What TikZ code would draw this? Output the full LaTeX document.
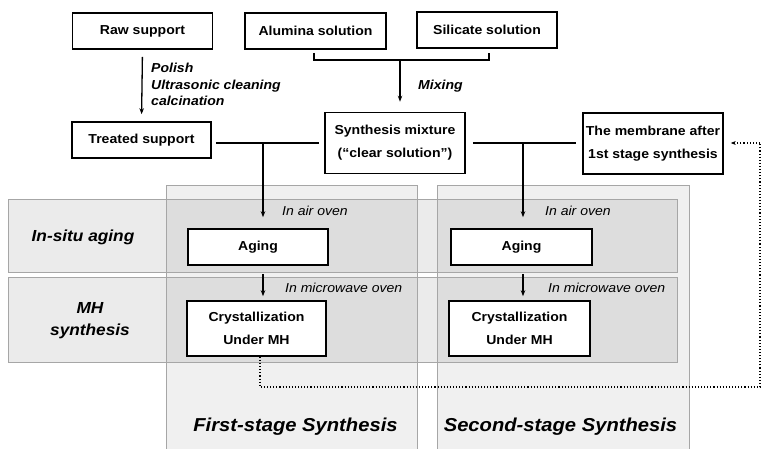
\documentclass[tikz,border=0pt]{standalone}
\usepackage{fontspec}
\setmainfont{Liberation Sans}[FakeStretch=1.08]
\usetikzlibrary{arrows.meta}
\begin{document}
\begin{tikzpicture}[x=1pt,y=-1pt,
  box/.style={draw=black,line width=1.6pt,fill=white,inner sep=0pt,align=center,font=\fontsize{13}{23}\selectfont\bfseries},
  conn/.style={line width=1.3pt},
  arr/.style={line width=1.3pt,-{Stealth[length=6pt,width=4.5pt]}},
  dots/.style={line width=1.1pt,dotted},
  lbl/.style={font=\fontsize{13}{16.5}\selectfont\bfseries\itshape,align=left,inner sep=0pt},
  oven/.style={font=\fontsize{13}{15}\selectfont\itshape,inner sep=0pt,anchor=west},
  rowlbl/.style={font=\fontsize{16}{22}\selectfont\bfseries\itshape,align=center,inner sep=0pt},
  stagelbl/.style={font=\fontsize{18.7}{22}\selectfont\bfseries\itshape,inner sep=0pt},
  panel/.style={fill=black,fill opacity=0.06,draw=none},
  band/.style={fill=black,fill opacity=0.08,draw=none},
  edge/.style={draw=black!35,line width=0.8pt}
]
\useasboundingbox (0,0) rectangle (762,449);
\fill[white] (0,0) rectangle (762,449);

% panels and bands
\fill[panel] (166,185) rectangle (417,452);
\fill[panel] (437,185) rectangle (689,452);
\fill[band] (8,199) rectangle (677,272);
\fill[band] (8,277) rectangle (677,362);
\draw[edge] (166,452) -- (166,185) -- (417,185) -- (417,452);
\draw[edge] (437,452) -- (437,185) -- (689,185) -- (689,452);
\draw[edge] (8,199) rectangle (677,272);
\draw[edge] (8,277) rectangle (677,362);

% boxes
\node[box,minimum width=140pt,minimum height=36pt] (raw) at (142.5,31) {Raw support};
\node[box,minimum width=141pt,minimum height=36pt] (alu) at (315.5,31) {Alumina solution};
\node[box,minimum width=140pt,minimum height=36pt] (sil) at (487,30) {Silicate solution};
\node[box,minimum width=139pt,minimum height=36pt] (treated) at (141.5,140) {Treated support};
\node[box,minimum width=140pt,minimum height=61pt] (mix) at (395,143) {Synthesis mixture\\(``clear solution'')};
\node[box,minimum width=140pt,minimum height=61pt] (mem) at (653,143.5) {The membrane after\\1st stage synthesis};
\node[box,minimum width=140pt,minimum height=36pt] (ag1) at (258,247) {Aging};
\node[box,minimum width=141pt,minimum height=36pt] (ag2) at (521.5,247) {Aging};
\node[box,minimum width=139pt,minimum height=55pt] (cr1) at (256.5,328.5) {Crystallization\\Under MH};
\node[box,minimum width=141pt,minimum height=55pt] (cr2) at (519.5,328.5) {Crystallization\\Under MH};

% coordinates
\coordinate (bl) at (314,53);
\coordinate (br) at (489,53);
\coordinate (bm) at (400,60);
\coordinate (j1) at (263,143);
\coordinate (j2) at (523,143);
\coordinate (d1) at (260,387);
\coordinate (d2) at (760,387);
\coordinate (d3) at (760,143);

% raw -> treated
\draw[arr,shorten <=7pt,shorten >=7pt] (raw.south) -- (treated.north);
\node[lbl,anchor=north west] (proc) at (151,63) {Polish\\Ultrasonic cleaning\\calcination};

% bracket and mixing
\draw[conn] (bl) -- (bl |- bm) -- (br |- bm) -- (br);
\draw[arr,shorten >=10pt] (bm) -- (bm |- mix.north);
\node[lbl,anchor=west] (mixlbl) at (418,86) {Mixing};

% horizontal connectors
\draw[conn,shorten <=4pt,shorten >=5pt] (treated.east |- j1) -- (mix.west |- j1);
\draw[conn,shorten <=7pt,shorten >=6pt] (mix.east |- j2) -- (mem.west |- j2);
\draw[arr,shorten >=11pt] (j1) -- (j1 |- ag1.north);
\draw[arr,shorten >=11pt] (j2) -- (j2 |- ag2.north);
\draw[arr,shorten <=8pt,shorten >=4pt] (ag1.south -| j1) -- (cr1.north -| j1);
\draw[arr,shorten <=8pt,shorten >=4pt] (ag2.south -| j2) -- (cr2.north -| j2);

% oven labels
\node[oven] (o1) at (282,211) {In air oven};
\node[oven] (o2) at (545,211) {In air oven};
\node[oven] (o3) at (285,288) {In microwave oven};
\node[oven] (o4) at (548,288) {In microwave oven};

% row labels
\node[rowlbl] (r1) at (83,237) {In-situ aging};
\node[rowlbl] (r2) at (90,321) {MH\\synthesis};

% stage labels
\node[stagelbl] (s1) at (295.5,427) {First-stage Synthesis};
\node[stagelbl] (s2) at (560.5,427) {Second-stage Synthesis};

% dotted feedback
\draw[dots] (cr1.south -| d1) -- (d1) -- (d2) -- (d3);
\draw[dots,-{Stealth[length=5pt,width=4pt]},shorten >=7pt] (d3) -- (mem.east |- d3);
\end{tikzpicture}
\end{document}
